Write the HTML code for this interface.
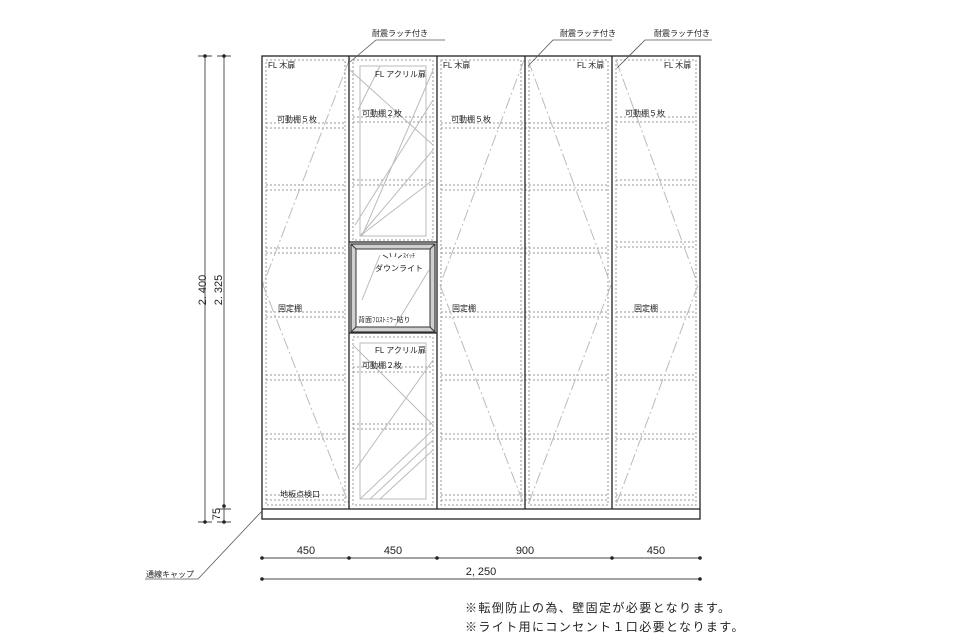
<!DOCTYPE html>
<html><head><meta charset="utf-8"><style>
body{margin:0;background:#fff}
svg{display:block}
text{font-family:"Liberation Sans","Noto Sans CJK JP",sans-serif;fill:#222}
</style></head><body>
<svg width="960" height="640" viewBox="0 0 960 640" xmlns="http://www.w3.org/2000/svg">
<g fill="none" stroke="#999" stroke-width="1" stroke-dasharray="2,2">
  <rect x="266" y="60" width="79" height="445"/>
  <rect x="353" y="60" width="80" height="180"/>
  <rect x="353" y="337" width="80" height="168"/>
  <rect x="441" y="60" width="80" height="445"/>
  <rect x="529" y="60" width="79" height="445"/>
  <rect x="616" y="60" width="80" height="445"/>
  <path d="M266 123H345M266 128H345M266 185H345M266 190H345M266 248H345M266 253H345M266 312H345M266 317H345M266 375H345M266 380H345M266 434H345M266 439H345M266 495H345M266 500H345"/>
  <path d="M441 123H608M441 128H608M441 185H608M441 190H608M441 248H608M441 253H608M441 312H608M441 317H608M441 375H608M441 380H608M441 434H608M441 439H608M441 495H608M441 500H608"/>
  <path d="M616 117H696M616 122H696M616 180H696M616 185H696M616 242H696M616 247H696M616 312H696M616 317H696M616 375H696M616 380H696M616 434H696M616 439H696M616 495H696M616 500H696"/>
  <path d="M353 117H433M353 122H433M353 180H433M353 185H433M353 367H433M353 372H433M353 424H433M353 429H433"/>
</g>
<g fill="none" stroke="#bbb" stroke-width="1">
  <rect x="360" y="66" width="66" height="170"/>
  <rect x="360" y="343" width="66" height="156"/>
  <path d="M350 70L433 145M360 236L433 150M360 236L433 180M355 225L433 100M380 66L358 110M362 236L433 70"/>
  <path d="M353 345L433 425M360 499L433 430M370 499L433 440M380 499L433 450M355 470L433 360"/>
</g>
<g fill="none" stroke="#bbb" stroke-width="1" stroke-dasharray="12,3,2,3">
  <path d="M350 58L263 285L350 507"/>
  <path d="M524 60L440 285L524 505"/>
  <path d="M528 60L611 285L528 505"/>
  <path d="M616 60L698 285L616 505"/>
</g>
<g fill="none" stroke="#222" stroke-width="1.3">
  <rect x="262" y="56" width="438" height="463"/>
  <path d="M262 509H700M349 56V509M437 56V509M525 56V509M612 56V509M349 242H437M349 333H437"/>
</g>
<rect x="351" y="244" width="84" height="88" fill="#d0d0d0" stroke="#333" stroke-width="1.2"/>
<rect x="356" y="249" width="74" height="78" fill="#fff" stroke="#333" stroke-width="1"/>
<path d="M351 244L356 249M435 244L430 249M351 332L356 327M435 332L430 327" stroke="#333"/>
<path d="M362 300L380 255M395 326L429 270" stroke="#bbb"/>
<g font-size="8">
  <text x="268" y="68">FL 木扉</text>
  <text x="375" y="77">FL アクリル扉</text>
  <text x="443" y="68">FL 木扉</text>
  <text x="577" y="68">FL 木扉</text>
  <text x="664" y="68">FL 木扉</text>
  <text x="277" y="122">可動棚５枚</text>
  <text x="362" y="116">可動棚２枚</text>
  <text x="451" y="122">可動棚５枚</text>
  <text x="625" y="116">可動棚５枚</text>
  <text x="278" y="311">固定棚</text>
  <text x="452" y="311">固定棚</text>
  <text x="634" y="311">固定棚</text>
  <text x="375" y="271">ダウンライト</text>
  <text x="358" y="322" font-size="7">背面ﾌﾛｽﾄﾐﾗｰ貼り</text>
  <text x="375" y="353">FL アクリル扉</text>
  <text x="362" y="368">可動棚２枚</text>
  <text x="280" y="497">地板点検口</text>
  <text x="403" y="258" font-size="6">ｽｲｯﾁ</text>
</g>
<path d="M383 255l5 3M390 253l1 4M396 253l-1 4M402 255l-4 3" stroke="#333" stroke-width="0.8"/>
<g stroke="#555" stroke-width="0.8" fill="none">
  <path d="M350 62L376 40H445"/>
  <path d="M528 66L553 40H612"/>
  <path d="M617 68L645 40H712"/>
  <path d="M262 511L198 579H145"/>
</g>
<g font-size="8">
  <text x="372" y="36">耐震ラッチ付き</text>
  <text x="560" y="36">耐震ラッチ付き</text>
  <text x="654" y="36">耐震ラッチ付き</text>
  <text x="146" y="577">通線キャップ</text>
</g>
<g stroke="#444" stroke-width="0.9">
  <path d="M205 56V522M224 56V509M224 509V522"/>
  <path d="M198 56H212M217 56H231M198 522H212M217 509H231M217 522H231"/>
  <path d="M262 558H700M262 579H700"/>
</g>
<g fill="#222">
  <circle cx="205" cy="56" r="1.8"/><circle cx="205" cy="522" r="1.8"/>
  <circle cx="224" cy="56" r="1.8"/><circle cx="224" cy="506" r="1.8"/><circle cx="224" cy="522" r="1.8"/>
  <circle cx="262" cy="558" r="1.8"/><circle cx="349" cy="558" r="1.8"/><circle cx="437" cy="558" r="1.8"/><circle cx="612" cy="558" r="1.8"/><circle cx="700" cy="558" r="1.8"/>
  <circle cx="262" cy="579" r="1.8"/><circle cx="700" cy="579" r="1.8"/>
</g>
<g font-size="11">
  <text transform="translate(206,290) rotate(-90)" text-anchor="middle">2. 400</text>
  <text transform="translate(222,290) rotate(-90)" text-anchor="middle">2. 325</text>
  <text transform="translate(220,514) rotate(-90)" text-anchor="middle">75</text>
  <text x="306" y="554" text-anchor="middle">450</text>
  <text x="393" y="554" text-anchor="middle">450</text>
  <text x="525" y="554" text-anchor="middle">900</text>
  <text x="656" y="554" text-anchor="middle">450</text>
  <text x="481" y="575" text-anchor="middle">2, 250</text>
</g>
<g font-size="12" letter-spacing="1.4">
  <text x="465" y="612">※転倒防止の為、壁固定が必要となります。</text>
  <text x="465" y="631">※ライト用にコンセント１口必要となります。</text>
</g>
</svg>
</body></html>
